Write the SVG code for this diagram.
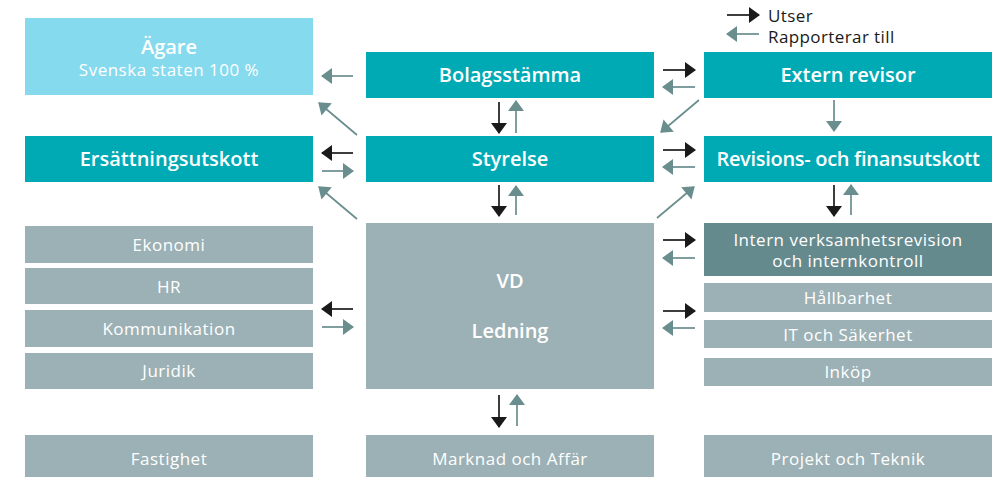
<svg xmlns="http://www.w3.org/2000/svg" width="1005" height="478" viewBox="0 0 1005 478">
<style>
.teal{fill:#00AAB5}
.sky{fill:#86DAEE}
.grey{fill:#9CB1B5}
.dark{fill:#658A8E}
.tb{font-family:"Open Sans","Noto Sans",sans-serif;font-weight:600;font-size:20px;fill:#fff;text-anchor:middle}
.tr{font-family:"Open Sans","Noto Sans",sans-serif;font-weight:400;font-size:17px;fill:#fff;text-anchor:middle;letter-spacing:0.5px}
.lg{font-family:"Open Sans","Noto Sans",sans-serif;font-weight:400;font-size:17px;fill:#1a1a1a;letter-spacing:0.4px}
.k{stroke:#1a1a1a;stroke-width:1.7;fill:none;marker-end:url(#hk)}
.g{stroke:#6A8D8E;stroke-width:1.7;fill:none;marker-end:url(#hg)}
</style>
<defs>
<marker id="hk" markerUnits="userSpaceOnUse" markerWidth="12" markerHeight="16" viewBox="0 0 11 16" refX="10" refY="8" orient="auto"><path d="M0,0 L11,8 L0,16 z" fill="#1a1a1a"/></marker>
<marker id="hg" markerUnits="userSpaceOnUse" markerWidth="12" markerHeight="16" viewBox="0 0 11 16" refX="10" refY="8" orient="auto"><path d="M0,0 L11,8 L0,16 z" fill="#6A8D8E"/></marker>
</defs>

<g id="legend">
<line class="k" x1="727" y1="15" x2="759" y2="15"/>
<text class="lg" x="768" y="22">Utser</text>
<line class="g" x1="759" y1="34" x2="727" y2="34"/>
<text class="lg" x="768" y="43">Rapporterar till</text>
</g>

<g id="agare"><rect class="sky" x="25" y="18" width="288" height="77"/>
<text class="tb" x="169" y="54">Ägare</text>
<text class="tr" x="169" y="76">Svenska staten 100 %</text></g>

<g id="bolagsstamma"><rect class="teal" x="366" y="52" width="288" height="46"/><text class="tb" x="510" y="82">Bolagsstämma</text></g>
<g id="extern"><rect class="teal" x="704" y="52" width="288" height="46"/><text class="tb" x="848" y="82">Extern revisor</text></g>
<g id="ersattning"><rect class="teal" x="25" y="136" width="288" height="46"/><text class="tb" x="169" y="166">Ersättningsutskott</text></g>
<g id="styrelse"><rect class="teal" x="366" y="136" width="288" height="46"/><text class="tb" x="510" y="166">Styrelse</text></g>
<g id="revisions"><rect class="teal" x="704" y="136" width="288" height="46"/><text class="tb" x="848" y="166" style="letter-spacing:-0.3px">Revisions- och finansutskott</text></g>

<g id="vd"><rect class="grey" x="366" y="223" width="288" height="166"/>
<text class="tb" x="510" y="288">VD</text>
<text class="tb" x="510" y="338">Ledning</text></g>

<g id="ekonomi"><rect class="grey" x="25" y="226" width="288" height="37"/><text class="tr" x="169" y="251">Ekonomi</text></g>
<g id="hr"><rect class="grey" x="25" y="268" width="288" height="36"/><text class="tr" x="169" y="293">HR</text></g>
<g id="kommunikation"><rect class="grey" x="25" y="310" width="288" height="37"/><text class="tr" x="169" y="335">Kommunikation</text></g>
<g id="juridik"><rect class="grey" x="25" y="353" width="288" height="36"/><text class="tr" x="169" y="377">Juridik</text></g>

<g id="intern"><rect class="dark" x="704" y="223" width="288" height="53"/>
<text class="tr" x="848" y="246">Intern verksamhetsrevision</text>
<text class="tr" x="848" y="267">och internkontroll</text></g>
<g id="hallbarhet"><rect class="grey" x="704" y="283" width="288" height="29"/><text class="tr" x="848" y="304">Hållbarhet</text></g>
<g id="it"><rect class="grey" x="704" y="320" width="288" height="28"/><text class="tr" x="848" y="341">IT och Säkerhet</text></g>
<g id="inkop"><rect class="grey" x="704" y="358" width="288" height="28"/><text class="tr" x="848" y="378">Inköp</text></g>

<g id="fastighet"><rect class="grey" x="25" y="435" width="288" height="42"/><text class="tr" x="169" y="465">Fastighet</text></g>
<g id="marknad"><rect class="grey" x="366" y="435" width="288" height="42"/><text class="tr" x="510" y="465">Marknad och Affär</text></g>
<g id="projekt"><rect class="grey" x="704" y="435" width="288" height="42"/><text class="tr" x="848" y="465">Projekt och Teknik</text></g>

<g id="connectors">
<line class="g" x1="353" y1="76" x2="322" y2="76"/>
<line class="g" x1="357" y1="135" x2="319" y2="103"/>
<line class="k" x1="353" y1="153" x2="322" y2="153"/>
<line class="g" x1="322" y1="171" x2="353" y2="171"/>
<line class="g" x1="357" y1="219" x2="319" y2="187"/>
<line class="k" x1="353" y1="309" x2="322" y2="309"/>
<line class="g" x1="322" y1="327" x2="353" y2="327"/>

<line class="k" x1="499" y1="102" x2="499" y2="133"/>
<line class="g" x1="516" y1="133" x2="516" y2="101"/>
<line class="k" x1="499" y1="185" x2="499" y2="216"/>
<line class="g" x1="516" y1="215" x2="516" y2="186"/>
<line class="k" x1="499" y1="395" x2="499" y2="427"/>
<line class="g" x1="517" y1="426" x2="517" y2="395"/>

<line class="k" x1="663" y1="70" x2="695" y2="70"/>
<line class="g" x1="695" y1="87" x2="663" y2="87"/>
<line class="g" x1="699" y1="100" x2="661" y2="132"/>
<line class="k" x1="663" y1="150" x2="695" y2="150"/>
<line class="g" x1="695" y1="167" x2="663" y2="167"/>
<line class="g" x1="657" y1="218" x2="694" y2="187"/>
<line class="k" x1="663" y1="240" x2="695" y2="240"/>
<line class="g" x1="695" y1="258" x2="663" y2="258"/>
<line class="k" x1="663" y1="311" x2="695" y2="311"/>
<line class="g" x1="695" y1="328" x2="663" y2="328"/>

<line class="g" x1="834" y1="100" x2="834" y2="131"/>
<line class="k" x1="834" y1="185" x2="834" y2="216"/>
<line class="g" x1="851" y1="215" x2="851" y2="185"/>
</g>
</svg>
